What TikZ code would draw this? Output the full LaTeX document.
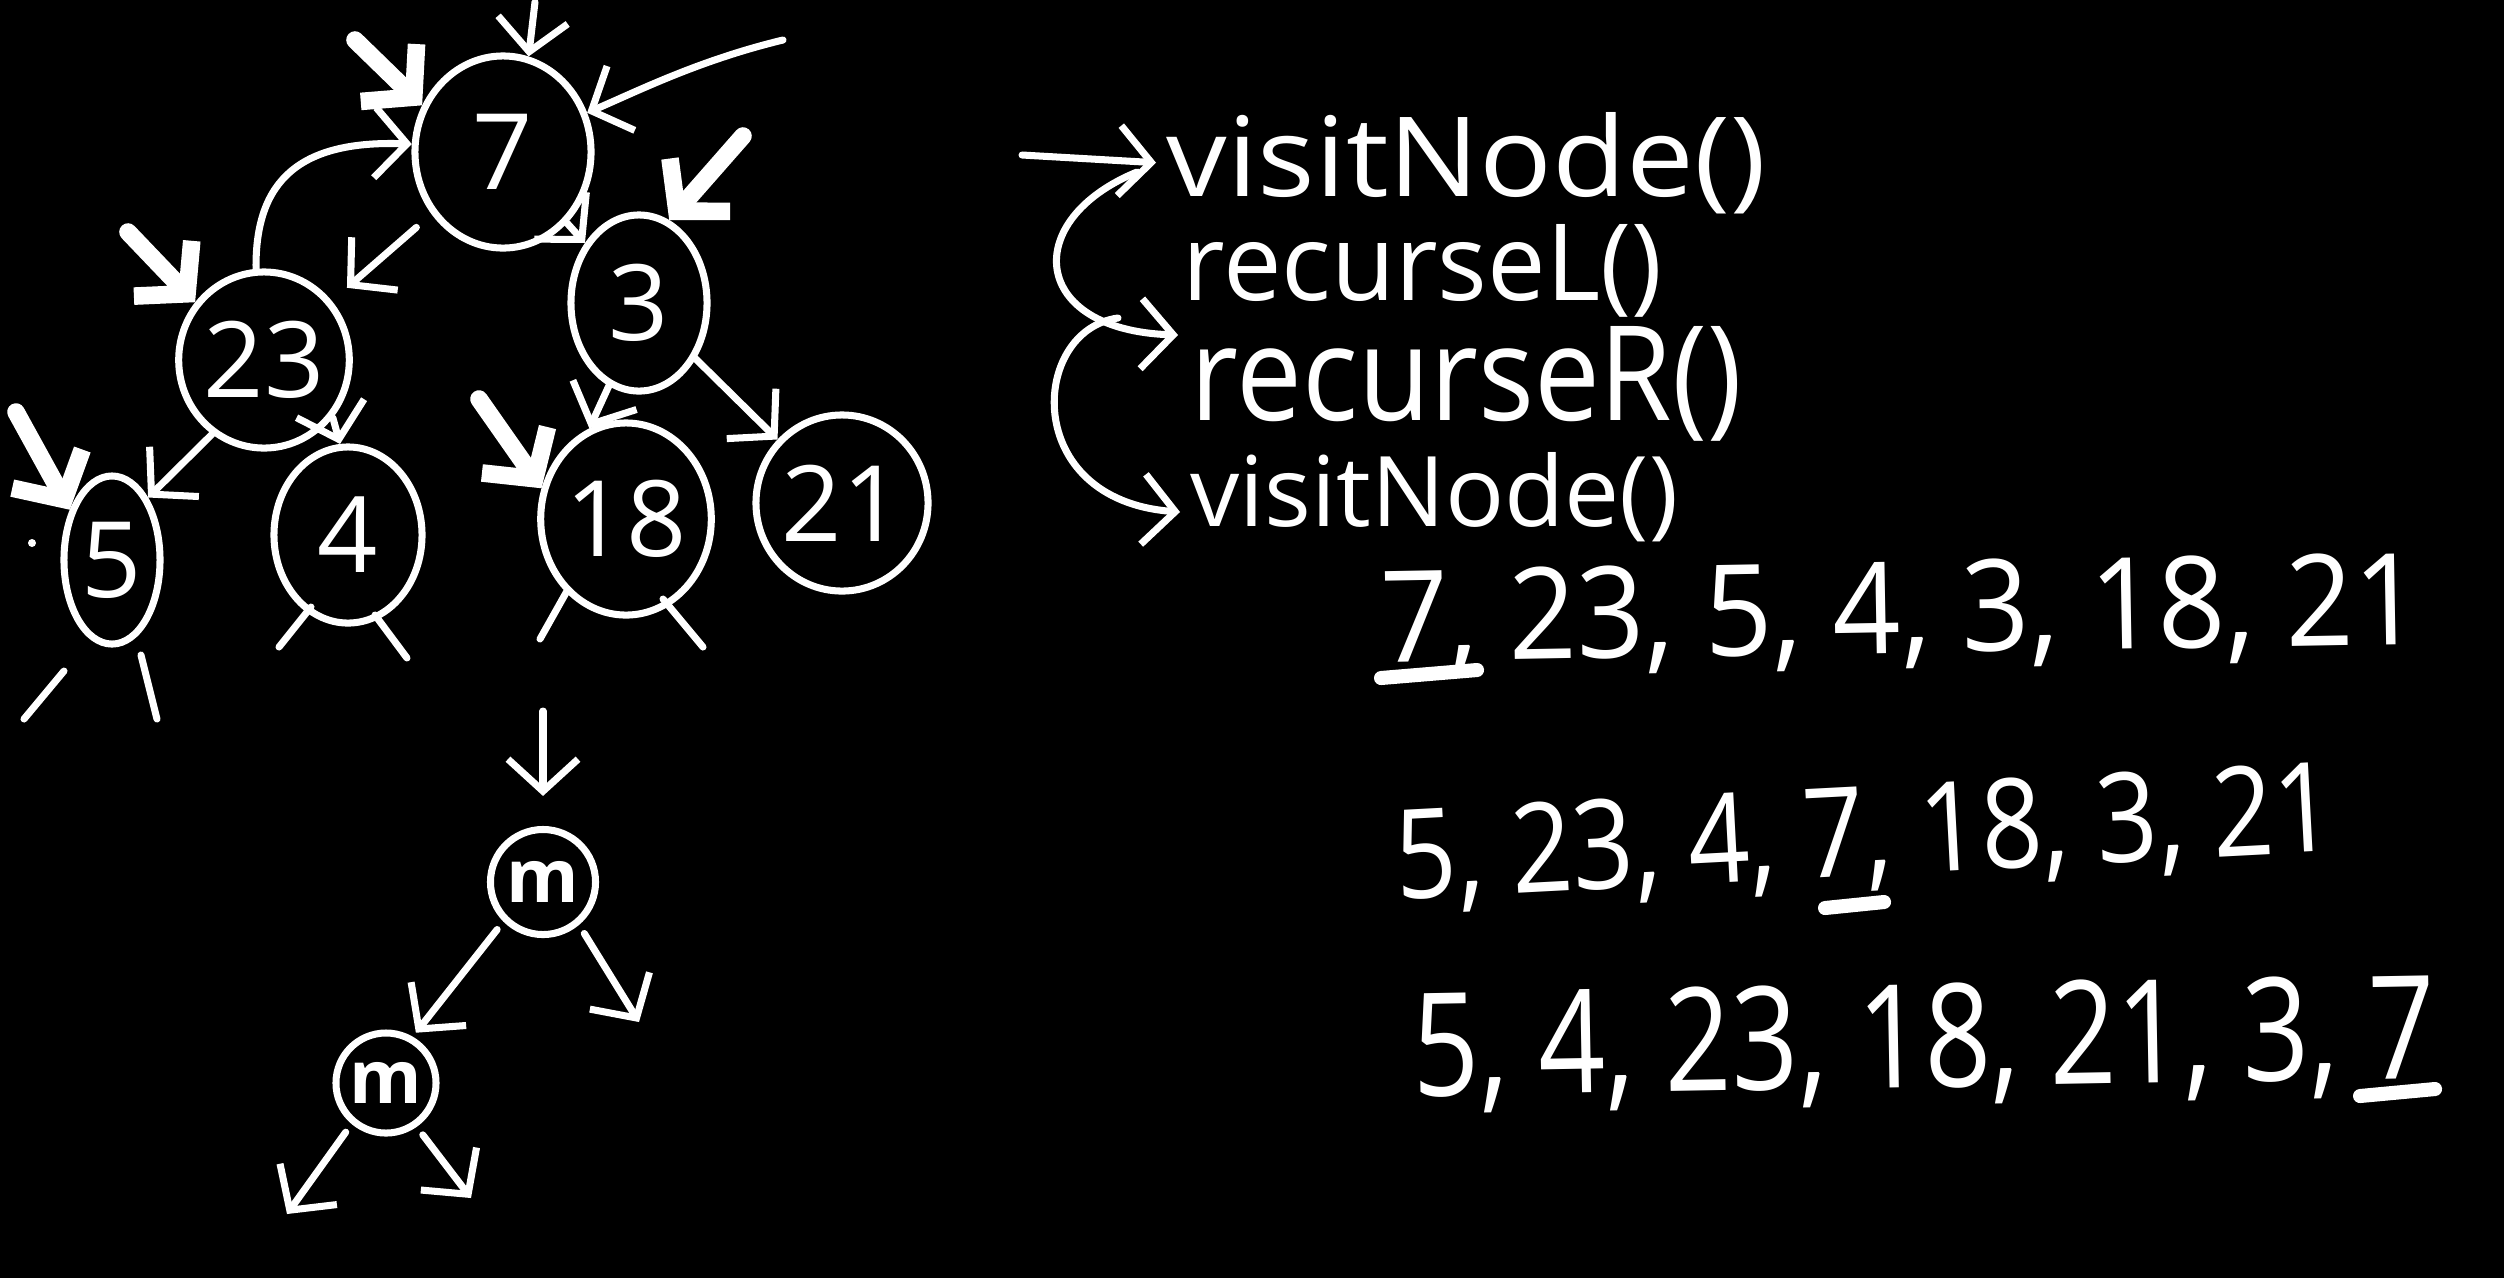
\documentclass[tikz,border=0pt]{standalone}
\usepackage{fontspec}
\setmainfont{Open Sans}
\usetikzlibrary{shapes.geometric, arrows.meta}
\begin{document}
\begin{tikzpicture}[x={(0.01cm,0)}, y={(0,-0.01cm)},
  ln/.style={draw=white, line width=2pt, line cap=round},
  arr/.style={ln, -{Straight Barb[length=3.2mm,width=7mm]}},
  tarr/.style={draw=white, line width=5pt, line cap=round, -{Straight Barb[length=3.5mm,width=8mm]}},
  tn/.style={draw=white, line width=2pt, ellipse, inner sep=0pt, text=white, font=\fontsize{30}{30}\selectfont},
  mn/.style={draw=white, line width=2pt, circle, inner sep=0pt, text=white, font=\fontsize{21}{21}\selectfont\bfseries},
  txt/.style={text=white, inner sep=0pt, anchor=base west},
  ul/.style={draw=white, line width=4pt, line cap=round}]
\useasboundingbox (0,0) rectangle (2504,1278);
\fill[black] (0,0) rectangle (2504,1278);

% tree nodes
\node[tn, minimum width=1.76cm, minimum height=1.92cm] (n7) at (503,152) {7};
\node[tn, minimum width=1.60cm, minimum height=1.76cm] (n23) at (264,360) {23};
\node[tn, minimum width=1.36cm, minimum height=1.76cm] (n3) at (639,303) {3};
\node[tn, minimum width=0.96cm, minimum height=1.68cm] (n5) at (112,560) {5};
\node[tn, minimum width=1.48cm, minimum height=1.76cm] (n4) at (348,535) {4};
\node[tn, minimum width=1.60cm, minimum height=1.92cm] (n18) at (626,519) {18};
\node[tn, minimum width=1.72cm, minimum height=1.76cm] (n21) at (842,503) {21};

% tree edges
\draw[arr, shorten <=0.2cm, shorten >=0.2cm] (n7) -- (n23);
\draw[arr] (n7) -- (n3);
\draw[arr] (n3) -- (n21);
\draw[arr] (n3.250) -- (n18.112);
\draw[arr] (n23.235) -- (n5.60);
\draw[arr] (n23.-40) -- (n4.95);
\draw[arr] (n23.95) .. controls (255,180) and (300,140) .. (n7.175);

% traversal marks
\coordinate (t7a) at (355,40);
\coordinate (t7b) at (535,2);
\coordinate (t7c) at (783,40);
\coordinate (t3) at (743,136);
\coordinate (t23) at (128,232);
\coordinate (t5) at (16,412);
\coordinate (t18) at (479,399);
\draw[tarr] (t7a) -- (n7.150);
\draw[arr] (t7b) -- (n7.75);
\draw[arr] (t7c) .. controls (700,60) and (640,90) .. (n7.25);
\draw[tarr] (t3) -- (n3.70);
\draw[tarr] (t23) -- (n23.140);
\draw[tarr] (t5) -- (n5.130);
\draw[tarr] (t18) -- (n18.160);

% stubs
\coordinate (s5a) at (24,719); \coordinate (s5b) at (64,671);
\coordinate (s5c) at (141,655); \coordinate (s5d) at (157,719);
\coordinate (s4a) at (279,647); \coordinate (s4b) at (311,607);
\coordinate (s4c) at (375,615); \coordinate (s4d) at (407,658);
\coordinate (s18a) at (540,639); \coordinate (s18b) at (567,591);
\coordinate (s18c) at (663,599); \coordinate (s18d) at (703,647);
\draw[ln] (s5a) -- (s5b);
\draw[ln] (s5c) -- (s5d);
\draw[ln] (s4a) -- (s4b);
\draw[ln] (s4c) -- (s4d);
\draw[ln] (s18a) -- (s18b);
\draw[ln] (s18c) -- (s18d);
\fill[white] (32,543) circle (4);

% lower tree
\node[mn, minimum size=1.05cm] (m1) at (543,882) {m};
\node[mn, minimum size=1.0cm] (m2) at (386,1083) {m};
\coordinate (mt) at (543,711);
\coordinate (mr) at (639,1022);
\coordinate (ml2) at (287,1214);
\coordinate (mr2) at (471,1198);
\draw[arr, shorten >=0.3cm] (mt) -- (m1.north);
\draw[arr, shorten <=0.1cm, shorten >=0.05cm] (m1.225) -- (m2.60);
\draw[arr, shorten <=0.1cm] (m1.-50) -- (mr);
\draw[arr, shorten <=0.1cm] (m2.230) -- (ml2);
\draw[arr, shorten <=0.1cm] (m2.-55) -- (mr2);

% code lines
\node[txt] (v1) at (1166,196) {\resizebox{5.99cm}{0.84cm}{visitNode()}};
\node[txt] (r1) at (1182,300) {\resizebox{4.79cm}{0.76cm}{recurseL()}};
\node[txt] (r2) at (1190,420) {\resizebox{5.51cm}{0.94cm}{recurseR()}};
\node[txt] (v2) at (1190,526) {\resizebox{4.87cm}{0.74cm}{visitNode()}};

\coordinate (s0) at (1022,155);
\coordinate (c1s) at (1137,172);
\coordinate (c1e) at (1178,335);
\coordinate (c2s) at (1118,318);
\coordinate (c2e) at (1180,512);
\draw[arr] (s0) -- ([xshift=-0.1cm]v1.west);
\draw[arr] (c1s) .. controls (1020,220) and (1030,330) .. (c1e);
\draw[arr] (c2s) .. controls (1030,330) and (1020,500) .. (c2e);

% traversal orders
\node[txt, rotate=1.0] (o1) at (1381,662) {\resizebox{10.4cm}{0.92cm}{7, 23, 5, 4, 3, 18, 21}};
\node[txt, rotate=3] (o2) at (1397,900) {\resizebox{9.4cm}{0.9cm}{5, 23, 4, 7, 18, 3, 21}};
\node[txt, rotate=1] (o3) at (1413,1096) {\resizebox{10.22cm}{1.04cm}{5, 4, 23, 18, 21, 3, 7}};

\coordinate (u1a) at (1381,678); \coordinate (u1b) at (1477,670);
\coordinate (u2a) at (1825,908); \coordinate (u2b) at (1884,902);
\coordinate (u3a) at (2360,1096); \coordinate (u3b) at (2435,1089);
\draw[ul] (u1a) -- (u1b);
\draw[ul] (u2a) -- (u2b);
\draw[ul] (u3a) -- (u3b);
\end{tikzpicture}
\end{document}
